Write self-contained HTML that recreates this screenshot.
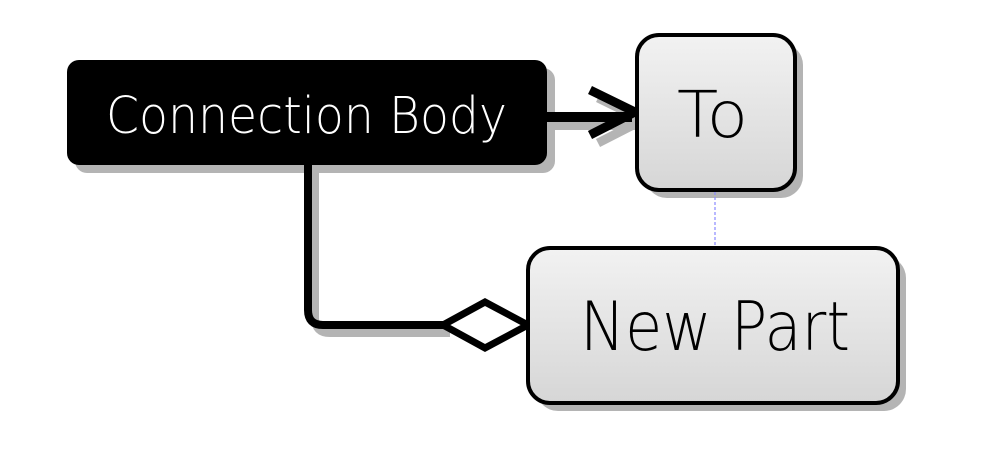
<!DOCTYPE html>
<html><head><style>body{margin:0;background:#fff}</style></head><body>
<svg width="1006" height="464" xmlns="http://www.w3.org/2000/svg">
<defs>
<linearGradient id="g" x1="0" y1="0" x2="0" y2="1"><stop offset="0" stop-color="#f2f2f2"/><stop offset="1" stop-color="#d6d6d6"/></linearGradient>
</defs>
<g fill="#b4b4b4" stroke="#b4b4b4">
<rect x="75" y="68" width="480" height="105" rx="12" stroke="none"/>
<rect x="645" y="43" width="158" height="155" rx="22" stroke="none"/>
<rect x="536" y="256" width="370" height="155" rx="22" stroke="none"/>
<path d="M315 173 V318 Q315 333 330 333 H450" fill="none" stroke-width="8"/>
<path d="M555 125 H640" fill="none" stroke-width="10"/>
<path d="M598 98 L643 120 L598 143" fill="none" stroke-width="9"/>
</g>
<path d="M308 165 V310 Q308 325 323 325 H443" fill="none" stroke="#000" stroke-width="8"/>
<path d="M443 325 L485 302 L528 325 L485 348 Z" fill="#fff" stroke="#000" stroke-width="7" stroke-linejoin="miter"/>
<path d="M547 117 H632" fill="none" stroke="#000" stroke-width="10"/>
<path d="M590 90 L635 112 L590 135" fill="none" stroke="#000" stroke-width="9"/>
<line x1="715" y1="192" x2="715" y2="248" stroke="#8888ff" stroke-width="1.2" stroke-dasharray="3,2"/>
<rect x="67" y="60" width="480" height="105" rx="12" fill="#000"/>
<rect x="637" y="35" width="158" height="155" rx="22" fill="url(#g)" stroke="#000" stroke-width="4"/>
<rect x="528" y="248" width="370" height="155" rx="22" fill="url(#g)" stroke="#000" stroke-width="4"/>
<g font-family="DejaVu Sans, Liberation Sans, sans-serif" font-weight="200">
<text x="106" y="133" font-size="51" fill="#fff" textLength="401" lengthAdjust="spacingAndGlyphs">Connection Body</text>
<text x="677" y="137" font-size="64" fill="#000" textLength="71" lengthAdjust="spacingAndGlyphs">To</text>
<text x="580" y="350" font-size="68" fill="#000" textLength="270" lengthAdjust="spacingAndGlyphs">New Part</text>
</g>
</svg>
</body></html>
